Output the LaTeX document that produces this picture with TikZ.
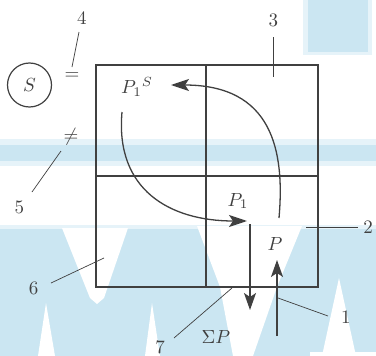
\documentclass[tikz,border=0pt]{standalone}
\usepackage{graphicx}
\usetikzlibrary{arrows.meta}
\definecolor{ink}{HTML}{404040}
\definecolor{bgblue}{HTML}{CBE6F2}
\definecolor{bglight}{HTML}{E6F3F9}
\newcommand{\bigtxt}[1]{\scalebox{1.9}{#1}}
\begin{document}
\begin{tikzpicture}[x=1pt,y=-1pt,
  lbl/.style={text=ink, inner sep=0pt},
  gridline/.style={draw=ink, line width=1.3pt},
  leader/.style={draw=ink, line width=0.7pt},
  bigarrow/.style={draw=ink, line width=1.6pt, -{Stealth[length=17pt,width=12pt,inset=4pt]}},
  curvearrow/.style={draw=ink, line width=1.3pt, -{Stealth[length=18pt,width=12pt,inset=4pt]}},
  bgfill/.style={fill=bgblue, draw=none},
  bglightfill/.style={fill=bglight, draw=none},
  whitefill/.style={fill=white, draw=none}]
\useasboundingbox (0,0) rectangle (376,356);
% background tints
\fill[bglightfill] (0,139) rectangle (376,166);
\fill[bgfill] (0,145) rectangle (376,161);
\fill[bglightfill] (303,0) rectangle (372,55);
\fill[bgfill] (308,0) rectangle (368,52);
\fill[bglightfill] (0,225) rectangle (376,356);
\fill[bgfill] (0,229) rectangle (376,356);
\fill[whitefill] (62,228) -- (128,228) -- (104,298) -- (97,304) -- (90,298) -- cycle;
\fill[whitefill] (197,226) -- (302,226) -- (277,287) -- (253,356) -- (233,356) -- (220,287) -- cycle;
\fill[whitefill] (46,303) -- (55,356) -- (38,356) -- cycle;
\fill[whitefill] (152,303) -- (160,356) -- (145,356) -- cycle;
\fill[whitefill] (339,278) -- (356,356) -- (322,356) -- cycle;
\fill[whitefill] (310,352) rectangle (376,356);
% grid
\draw[gridline] (96,65) rectangle (318,287);
\draw[gridline] (206,65) -- (206,287);
\draw[gridline] (96,176) -- (318,176);
% left symbols
\draw[ink, line width=1.2pt] (29.5,85) circle[radius=22];
\node[lbl] (S) at (29.5,85) {\bigtxt{$S$}};
\node[lbl] (eq) at (72,76.5) {\bigtxt{$=$}};
\node[lbl] (neq) at (71,137) {\bigtxt{$\neq$}};
% numbered labels
\node[lbl] (n4) at (82,18) {\bigtxt{4}};
\node[lbl] (n5) at (19.5,207.5) {\bigtxt{5}};
\node[lbl] (n6) at (33.5,288) {\bigtxt{6}};
\node[lbl] (n7) at (160,347) {\bigtxt{7}};
\node[lbl] (n3) at (273.5,20.5) {\bigtxt{3}};
\node[lbl] (n2) at (368,227) {\bigtxt{2}};
\node[lbl] (n1) at (346,317) {\bigtxt{1}};
% math labels
\node[lbl] (P1S) at (137,87) {\bigtxt{$P_1{}^{S}$}};
\node[lbl] (P1) at (238,201) {\bigtxt{$P_1$}};
\node[lbl] (P) at (275,244) {\bigtxt{$P$}};
\node[lbl] (SP) at (216,337) {\bigtxt{$\Sigma P$}};
% leader coordinates
\coordinate (l4a) at (79,32); \coordinate (l4b) at (72,67);
\coordinate (l5a) at (61,151); \coordinate (l5b) at (32,192);
\coordinate (l6a) at (51,283); \coordinate (l6b) at (104,258);
\coordinate (l7a) at (174,338); \coordinate (l7b) at (232,288);
\coordinate (l3a) at (273,37); \coordinate (l3b) at (273,77);
\coordinate (l2a) at (306,227); \coordinate (l2b) at (358,227);
\coordinate (l1a) at (278,298); \coordinate (l1b) at (328,316);
\draw[leader] (l4a) -- (l4b);
\draw[leader] (l5a) -- (l5b);
\draw[leader] (l6a) -- (l6b);
\draw[leader] (l7a) -- (l7b);
\draw[leader] (l3a) -- (l3b);
\draw[leader] (l2a) -- (l2b);
\draw[leader] (l1a) -- (l1b);
% arrows
\coordinate (upA) at (277,336); \coordinate (upB) at (277,260);
\coordinate (dnA) at (250,224); \coordinate (dnB) at (250,310);
\draw[bigarrow] (upA) -- (upB);
\draw[bigarrow] (dnA) -- (dnB);
\coordinate (c1a) at (279,218); \coordinate (c1b) at (171,85);
\draw[curvearrow] (c1a) .. controls (285,150) and (272,85) .. (c1b);
\coordinate (c2a) at (122,112); \coordinate (c2b) at (247,221);
\draw[curvearrow] (c2a) .. controls (115,190) and (170,221) .. (c2b);
\end{tikzpicture}
\end{document}
